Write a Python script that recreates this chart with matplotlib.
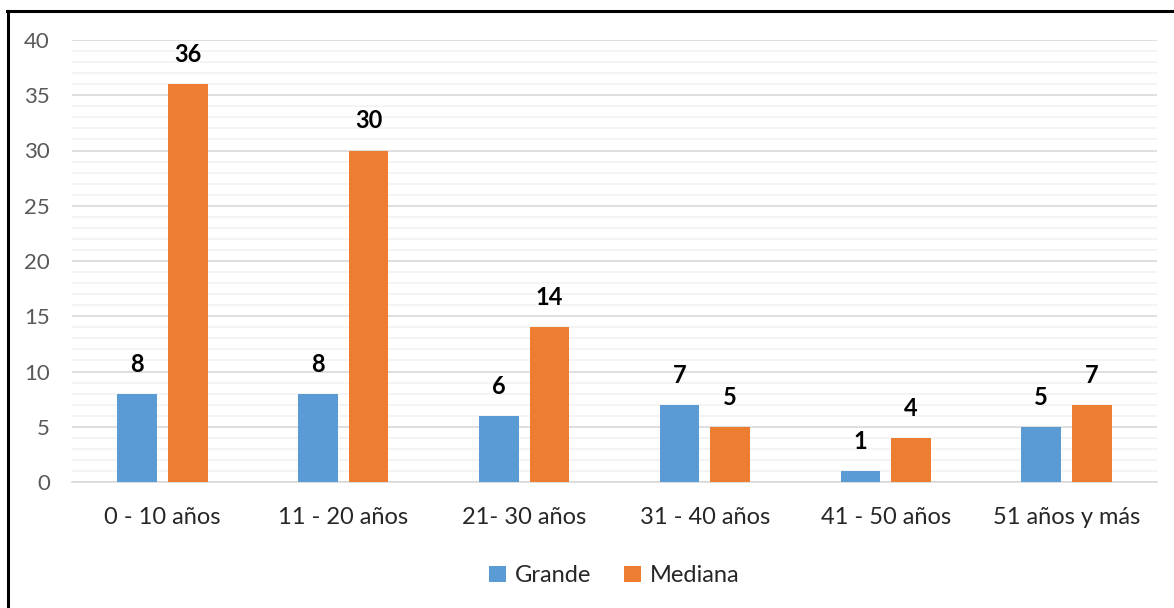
import matplotlib
matplotlib.use("Agg")
import matplotlib.pyplot as plt
import numpy as np
from matplotlib.ticker import MultipleLocator

# ---- Datos ----------------------------------------------------------------
categorias = ["0 - 10 años", "11 - 20 años", "21- 30 años",
              "31 - 40 años", "41 - 50 años", "51 años y más"]
grande = [8, 8, 6, 7, 1, 5]
mediana = [36, 30, 14, 5, 4, 7]

AZUL = "#5B9BD5"
NARANJA = "#ED7D31"

plt.rcParams["font.family"] = ["Lato", "DejaVu Sans"]

fig = plt.figure(figsize=(11.74, 6.08), dpi=100)
ax = fig.add_axes([72 / 1174, 1 - 482 / 608, (1157 - 72) / 1174, (482 - 40) / 608])

x = np.arange(len(categorias))
ancho = 0.22
b1 = ax.bar(x - 0.14, grande, ancho, color=AZUL, label="Grande", zorder=3)
b2 = ax.bar(x + 0.14, mediana, ancho, color=NARANJA, label="Mediana", zorder=3)

for barras in (b1, b2):
    for r in barras:
        ax.annotate(f"{int(r.get_height())}",
                    (r.get_x() + r.get_width() / 2, r.get_height()),
                    xytext=(0, 13), textcoords="offset points",
                    ha="center", va="bottom", fontsize=17, fontweight="bold",
                    color="black")

ax.set_xlim(-0.5, len(categorias) - 0.5)
ax.set_ylim(0, 40)
ax.yaxis.set_major_locator(MultipleLocator(5))
ax.yaxis.set_minor_locator(MultipleLocator(1))
ax.grid(axis="y", which="major", color="#D9D9D9", lw=1.2, zorder=0)
ax.grid(axis="y", which="minor", color="#F2F2F2", lw=1.2, zorder=0)
ax.set_xticks(x)
ax.set_xticklabels(categorias, fontsize=17, color="#262626")
ax.tick_params(axis="y", which="both", length=0, labelsize=16,
               labelcolor="#595959", pad=16)
ax.tick_params(axis="x", length=0, pad=18)
for lado in ("top", "right", "left"):
    ax.spines[lado].set_visible(False)
ax.spines["bottom"].set_color("#D9D9D9")
ax.spines["bottom"].set_linewidth(1.2)

ax.legend(loc="upper center", bbox_to_anchor=(0.5, -0.14), ncol=2,
          frameon=False, fontsize=17, handlelength=0.7, handleheight=0.7,
          handletextpad=0.4, columnspacing=1.4, labelcolor="#262626")

# marco exterior (solo visible arriba e izquierda)
fig.add_artist(plt.Line2D([8 / 1174, 8 / 1174], [0, 1 - 11 / 608],
                          color="black", lw=2.2))
fig.add_artist(plt.Line2D([7 / 1174, 1], [1 - 11 / 608, 1 - 11 / 608],
                          color="black", lw=2.2))

fig.savefig("out.png", dpi=100)
